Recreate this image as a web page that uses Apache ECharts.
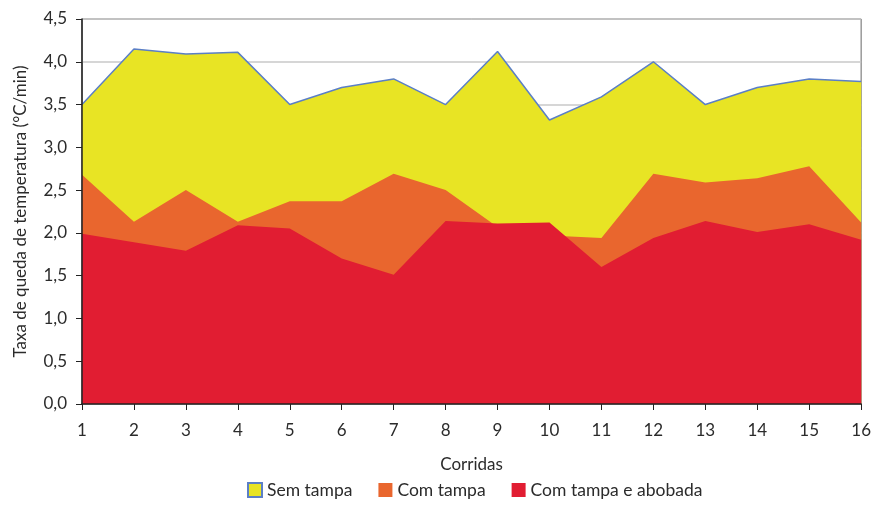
<!DOCTYPE html>
<html>
<head>
<meta charset="utf-8">
<script src="https://cdn.jsdelivr.net/npm/echarts@6/dist/echarts.min.js"></script>
<style>
  html, body { margin: 0; padding: 0; background: #fff; }
  #chart { width: 874px; height: 505px; }
</style>
</head>
<body>
<div id="chart"></div>
<script>
// dados
var corridas = ['1', '2', '3', '4', '5', '6', '7', '8', '9', '10', '11', '12', '13', '14', '15', '16'];
var semTampa = [3.50, 4.15, 4.09, 4.11, 3.50, 3.70, 3.80, 3.50, 4.12, 3.32, 3.59, 4.00, 3.50, 3.70, 3.80, 3.77];
var comTampa = [2.68, 2.13, 2.50, 2.13, 2.37, 2.37, 2.69, 2.50, 2.07, 1.97, 1.94, 2.69, 2.59, 2.64, 2.78, 2.12];
var comTampaAbobada = [1.99, 1.89, 1.79, 2.09, 2.05, 1.70, 1.51, 2.14, 2.11, 2.12, 1.60, 1.94, 2.14, 2.01, 2.10, 1.92];

var fonte = 'Lato, "Open Sans", sans-serif';
var txtColor = '#2b2b2b';
var yellow = '#e8e424', orange = '#e9662e', red = '#e11d32', blue = '#5b7fc6';

function areaSerie (name, data, color, lineColor, lineWidth, z) {
  return {
    name: name,
    type: 'line',
    data: data,
    z: z,
    symbol: 'none',
    smooth: false,
    itemStyle: { color: color },
    lineStyle: { color: lineColor, width: lineWidth },
    areaStyle: { color: color, opacity: 1 }
  };
}

var chart = echarts.init(document.getElementById('chart'));
var option = {
  animation: false,
  textStyle: { fontFamily: fonte },
  grid: {
    left: 82, right: 12, top: 19, bottom: 101,
    show: true,
    borderColor: '#666',
    borderWidth: 1
  },
  legend: {
    bottom: 1,
    left: 242,
    icon: 'rect',
    itemWidth: 14,
    itemHeight: 14,
    itemGap: 26,
    textStyle: { fontFamily: fonte, fontSize: 17.5, color: txtColor },
    data: [
      { name: 'Sem tampa', itemStyle: { color: yellow, borderColor: blue, borderWidth: 2 } },
      { name: 'Com tampa', itemStyle: { color: orange } },
      { name: 'Com tampa e abobada', itemStyle: { color: red } }
    ]
  },
  xAxis: {
    type: 'category',
    data: corridas,
    boundaryGap: false,
    name: 'Corridas',
    nameLocation: 'middle',
    nameGap: 52,
    nameTextStyle: { fontFamily: fonte, fontSize: 17, color: txtColor },
    axisLine: { lineStyle: { color: '#222', width: 1.5 } },
    axisTick: { show: true, alignWithLabel: true, length: 6, lineStyle: { color: '#222' } },
    axisLabel: { fontFamily: fonte, fontSize: 17, color: txtColor, margin: 18 },
    splitLine: { show: false },
    z: 10
  },
  yAxis: [{
    // só as linhas de grade, atrás das áreas
    type: 'value',
    min: 0,
    max: 4.5,
    interval: 0.5,
    axisLine: { show: false },
    axisTick: { show: false },
    axisLabel: { show: false },
    splitLine: { lineStyle: { color: '#c8c8c8', width: 1.5 } },
    z: 0
  }, {
    type: 'value',
    min: 0,
    max: 4.5,
    interval: 0.5,
    position: 'left',
    name: 'Taxa de queda de temperatura (°C/min)',
    nameLocation: 'middle',
    nameGap: 53,
    nameTextStyle: { fontFamily: fonte, fontSize: 17, color: txtColor },
    axisLine: { show: true, lineStyle: { color: '#222', width: 1.5 } },
    axisTick: { show: true, length: 6, lineStyle: { color: '#222' } },
    axisLabel: {
      fontFamily: fonte, fontSize: 17, color: txtColor, margin: 15,
      formatter: function (v) { return v.toFixed(1).replace('.', ','); }
    },
    splitLine: { show: false },
    z: 10
  }],
  series: [
    areaSerie('Sem tampa', semTampa, yellow, blue, 1.5, 1),
    areaSerie('Com tampa', comTampa, orange, orange, 0, 2),
    areaSerie('Com tampa e abobada', comTampaAbobada, red, red, 0, 3)
  ]
};
chart.setOption(option, true);
</script>
</body>
</html>
